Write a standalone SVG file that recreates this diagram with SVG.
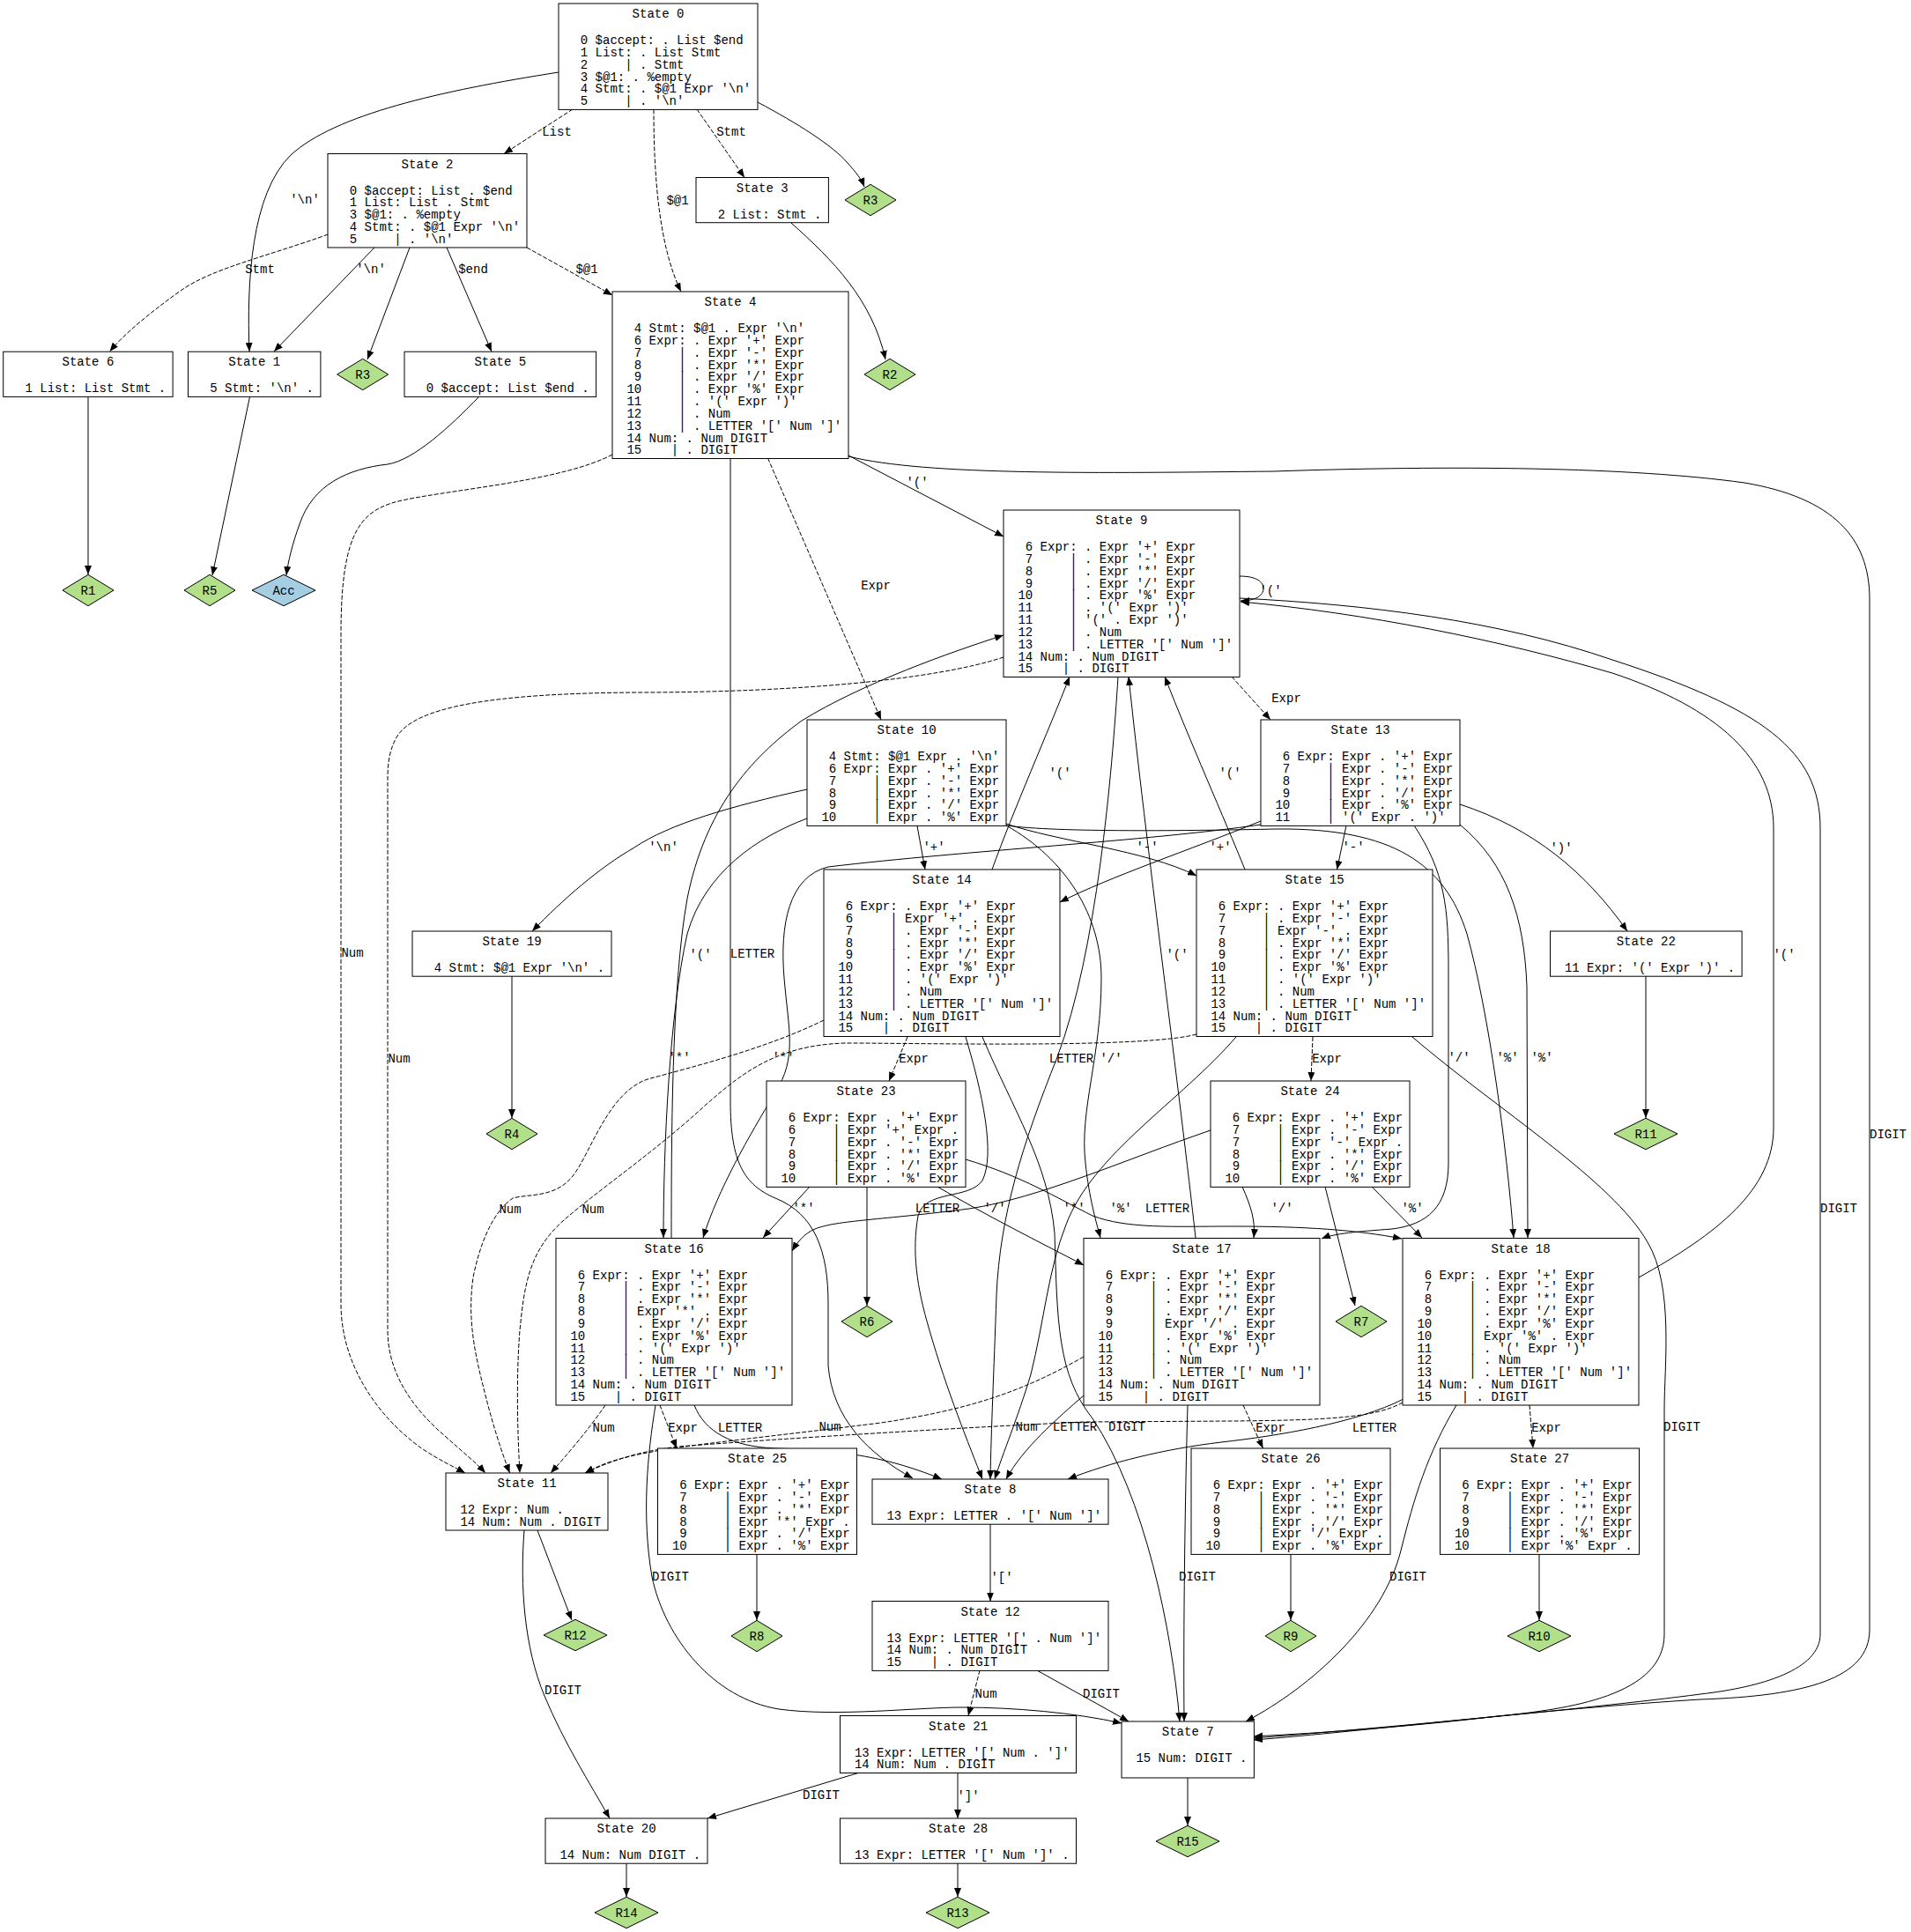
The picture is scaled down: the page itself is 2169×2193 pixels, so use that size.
<svg xmlns="http://www.w3.org/2000/svg" width="2169" height="2193" viewBox="0 0 2169 2193" xml:space="preserve">
<style>
  text { font-family: "Liberation Mono", "DejaVu Sans Mono", monospace; font-size: 14px; fill: #000; white-space: pre; }
  .ti { text-anchor: middle; }
  .lb { text-anchor: middle; }
  .box { fill: #fff; stroke: #000; stroke-width: 1; }
  .red { fill: #b2df8a; stroke: #000; stroke-width: 1; }
  .acc { fill: #a6cee3; stroke: #000; stroke-width: 1; }
  .e { fill: none; stroke: #000; stroke-width: 1; marker-end: url(#ah); }
  .d { stroke-dasharray: 5,2; }
</style>
<defs>
  <marker id="ah" viewBox="0 0 10 8" refX="10" refY="4" markerWidth="10" markerHeight="8" markerUnits="userSpaceOnUse" orient="auto">
    <path d="M0,0 L10,4 L0,8 z" fill="#000" stroke="none"/>
  </marker>
</defs>
<rect x="0" y="0" width="2169" height="2193" fill="#fff"/>

<!-- connectors -->
<g id="edges">
  <path class="e d" d="M650,124 L572,174.5"/>
  <text class="lb" x="632" y="154">List</text>
  <path class="e d" d="M791,124 L845,201.5"/>
  <text class="lb" x="830" y="154">Stmt</text>
  <path class="e" d="M860,116 C905,140 945,165 962,185 C972,196 978,204 981,212"/>
  <path class="e d" d="M742,124.4 C742,200 748,280 773,331"/>
  <text class="lb" x="769" y="232">$@1</text>
  <path class="e" d="M634,82 C500,103 380,130 330,176 C285,220 280,320 283,399"/>
  <text class="lb" x="346" y="231">'\n'</text>
  <path class="e d" d="M372.5,266 C300,292 240,305 205,330 C170,355 140,380 124.5,399"/>
  <text class="lb" x="295" y="310">Stmt</text>
  <path class="e" d="M425,281 L311,399"/>
  <text class="lb" x="421" y="310">'\n'</text>
  <path class="e" d="M465,281 L417,408"/>
  <path class="e" d="M507,281 L558,399"/>
  <text class="lb" x="537" y="310">$end</text>
  <path class="e d" d="M598,281 L695,335"/>
  <text class="lb" x="666" y="310">$@1</text>
  <path class="e" d="M898,253 C945,295 990,340 1005,408"/>
  <path class="e" d="M963,517 L1139,609"/>
  <text class="lb" x="1041" y="552">'('</text>
  <path class="e" d="M963,518 C1050,540 1250,537 1446,535 C1650,528 1850,530 1980,548 C2080,565 2122,610 2122,680 L2122,1850 C2122,1905 2050,1925 1930,1929 C1750,1940 1550,1965 1423,1975"/>
  <text class="lb" x="2143" y="1292">DIGIT</text>
  <path class="e d" d="M871.5,520 L1000,817"/>
  <text class="lb" x="994" y="669">Expr</text>
  <path class="e" d="M829,520 L829,1250 C829,1320 845,1345 880,1360 C925,1378 940,1420 940,1480 L940,1550 C945,1610 985,1650 1036,1678"/>
  <text class="lb" x="854" y="1087">LETTER</text>
  <path class="e d" d="M695,516 C640,545 520,555 461,567 C410,577 387,600 387,720 L387,1480 C387,1550 430,1610 480,1645 C500,1658 515,1665 528,1672"/>
  <text class="lb" x="400" y="1086">Num</text>
  <path class="e" d="M544,450 C510,485 470,522 440,527 C395,532 355,550 340,595 C332,617 327,637 325,653"/>
  <path class="e" d="M100,450.4 L100,652"/>
  <path class="e" d="M283.5,450.4 L241,653"/>
  <path class="e" d="M1407,654 C1427,654 1434,661 1434,668 C1434,676 1425,682 1408,682"/>
  <text class="lb" x="1442" y="675">'('</text>
  <path class="e" d="M1269,768 C1262,880 1245,1080 1200,1200 C1160,1300 1135,1380 1131,1470 C1128,1560 1125,1620 1124,1679"/>
  <text class="lb" x="1216" y="1206">LETTER</text>
  <path class="e" d="M1407,679 C1550,686 1700,704 1830,749 C2000,804 2066,852 2066,940 L2066,1855 C2066,1895 2000,1915 1930,1923 C1800,1940 1550,1963 1423,1973"/>
  <text class="lb" x="2087" y="1376">DIGIT</text>
  <path class="e d" d="M1398,768 L1442,817"/>
  <text class="lb" x="1460" y="797">Expr</text>
  <path class="e d" d="M1139,746 C1060,772 900,786 723,786 C560,787 470,802 450,837 C441,853 440,870 440,885 L440,1510 C440,1560 470,1600 505,1630 C525,1648 540,1660 551,1672"/>
  <text class="lb" x="453" y="1206">Num</text>
  <path class="e" d="M916,896 C830,915 760,935 720,962 C680,985 640,1020 604,1057"/>
  <text class="lb" x="753" y="966">'\n'</text>
  <path class="e" d="M1041,937.5 L1050,987"/>
  <text class="lb" x="1060" y="966">'+'</text>
  <path class="e" d="M1142,935 C1200,955 1300,965 1358,994"/>
  <text class="lb" x="1302" y="966">'-'</text>
  <path class="e" d="M916,929 C860,950 800,990 780,1060 C760,1150 753,1300 753,1405"/>
  <text class="lb" x="771" y="1205">'*'</text>
  <path class="e" d="M1142,937 C1210,975 1250,1040 1250,1110 C1250,1200 1225,1260 1232,1320 C1236,1360 1245,1390 1249,1405"/>
  <text class="lb" x="1261" y="1206">'/'</text>
  <path class="e" d="M1142,937 C1200,945 1350,943 1450,941 C1580,940 1640,980 1665,1060 C1690,1150 1710,1300 1718,1405"/>
  <text class="lb" x="1711" y="1205">'%'</text>
  <path class="e" d="M610,1737 L649,1839"/>
  <path class="e" d="M595,1737 C590,1800 595,1870 618,1925 C640,1978 670,2025 692,2064"/>
  <text class="lb" x="639" y="1923">DIGIT</text>
  <path class="e" d="M1124,1730 L1124,1817.5"/>
  <text class="lb" x="1137" y="1795">'['</text>
  <path class="e d" d="M1112,1896 L1099,1947.5"/>
  <text class="lb" x="1119" y="1927">Num</text>
  <path class="e" d="M1177,1896 L1281,1954"/>
  <text class="lb" x="1250" y="1927">DIGIT</text>
  <path class="e" d="M1431,932 C1350,965 1260,995 1203,1024"/>
  <text class="lb" x="1385" y="966">'+'</text>
  <path class="e" d="M1528,937 L1517.5,987"/>
  <text class="lb" x="1536" y="966">'-'</text>
  <path class="e" d="M1431,936 C1300,955 1100,965 940,984 C895,995 885,1050 890,1110 C895,1170 905,1200 880,1240 C850,1290 815,1350 798,1405"/>
  <text class="lb" x="889" y="1205">'*'</text>
  <path class="e" d="M1605,937 C1640,990 1644,1030 1644,1100 L1644,1320 C1644,1370 1620,1390 1580,1395 C1540,1398 1515,1400 1500,1406"/>
  <text class="lb" x="1656" y="1205">'/'</text>
  <path class="e" d="M1657,936 C1710,980 1730,1040 1733,1120 L1734,1405"/>
  <text class="lb" x="1750" y="1205">'%'</text>
  <path class="e" d="M1657,913 C1740,940 1800,990 1847,1057"/>
  <text class="lb" x="1772" y="967">')'</text>
  <path class="e" d="M1126,987 C1150,920 1190,830 1214,768"/>
  <text class="lb" x="1203" y="882">'('</text>
  <path class="e d" d="M1030,1177 L1009,1227"/>
  <text class="lb" x="1037" y="1206">Expr</text>
  <path class="e" d="M1096,1177 C1115,1240 1130,1310 1115,1340 C1100,1362 1050,1350 1042,1380 C1035,1420 1040,1460 1055,1510 C1075,1580 1100,1640 1115,1679"/>
  <text class="lb" x="1064" y="1376">LETTER</text>
  <path class="e" d="M1115,1177 C1150,1260 1190,1320 1197,1400 C1200,1500 1200,1560 1240,1610 C1300,1700 1330,1850 1339,1954"/>
  <text class="lb" x="1279" y="1624">DIGIT</text>
  <path class="e d" d="M935,1158 C870,1190 790,1210 735,1225 C690,1240 670,1310 650,1335 C630,1360 600,1355 582,1360 C560,1375 545,1410 537,1450 C530,1500 540,1540 550,1580 C560,1620 570,1650 578.6,1672"/>
  <text class="lb" x="579" y="1377">Num</text>
  <path class="e" d="M1413,987 C1390,930 1350,840 1322,768"/>
  <text class="lb" x="1396" y="882">'('</text>
  <path class="e d" d="M1490,1177 L1488,1227"/>
  <text class="lb" x="1506" y="1206">Expr</text>
  <path class="e" d="M1403,1177 C1340,1250 1240,1310 1210,1390 C1190,1440 1185,1500 1170,1560 C1155,1610 1138,1650 1129,1679"/>
  <text class="lb" x="1325" y="1376">LETTER</text>
  <path class="e" d="M1603,1177 C1700,1260 1830,1340 1870,1410 C1900,1460 1889,1550 1889,1600 L1889,1855 C1889,1925 1780,1940 1700,1948 C1600,1960 1500,1967 1423,1971"/>
  <text class="lb" x="1909" y="1624">DIGIT</text>
  <path class="e d" d="M1358,1174 C1300,1190 1050,1184 960,1184 C880,1186 840,1220 800,1255 C740,1310 680,1350 640,1385 C600,1420 595,1460 590,1510 C586,1560 587,1620 590,1672"/>
  <text class="lb" x="673" y="1377">Num</text>
  <path class="e" d="M762,1405 C762,1300 762,1120 780,1020 C800,920 850,862 910,818 C980,775 1080,740 1139,721"/>
  <text class="lb" x="795" y="1088">'('</text>
  <path class="e d" d="M749,1595 L768,1644"/>
  <text class="lb" x="775" y="1625">Expr</text>
  <path class="e" d="M788,1595 C800,1625 830,1642 880,1644 C960,1646 1010,1655 1069,1679"/>
  <text class="lb" x="840" y="1625">LETTER</text>
  <path class="e d" d="M687,1595 C670,1620 645,1650 625,1672"/>
  <text class="lb" x="685" y="1625">Num</text>
  <path class="e" d="M744,1595 C735,1650 728,1720 740,1790 C755,1860 810,1928 884,1940 C950,1949 1040,1938 1092,1938 C1150,1938 1220,1944 1273,1956"/>
  <text class="lb" x="761" y="1794">DIGIT</text>
  <path class="e" d="M1357,1405 C1340,1250 1300,950 1281,768"/>
  <text class="lb" x="1336" y="1088">'('</text>
  <path class="e d" d="M1411,1595 L1433.5,1644"/>
  <text class="lb" x="1442" y="1625">Expr</text>
  <path class="e" d="M1230,1584 C1200,1610 1160,1645 1142,1679"/>
  <text class="lb" x="1220" y="1624">LETTER</text>
  <path class="e" d="M1348,1595 C1345,1700 1343,1850 1344,1954"/>
  <text class="lb" x="1359" y="1794">DIGIT</text>
  <path class="e d" d="M1230,1540 C1160,1580 1100,1600 1000,1615 C880,1630 780,1640 740,1648 C700,1655 680,1663 664,1672"/>
  <text class="lb" x="942" y="1624">Num</text>
  <path class="e" d="M1860,1450 C1950,1400 2013,1350 2013,1280 L2013,940 C2013,862 1950,804 1830,764 C1700,726 1550,696 1408,683"/>
  <text class="lb" x="2025" y="1088">'('</text>
  <path class="e d" d="M1736,1595 L1740,1644"/>
  <text class="lb" x="1755" y="1625">Expr</text>
  <path class="e" d="M1593,1588 C1540,1615 1450,1630 1386,1637 C1320,1645 1260,1660 1212,1679"/>
  <text class="lb" x="1560" y="1625">LETTER</text>
  <path class="e" d="M1653,1595 C1620,1650 1605,1700 1590,1760 C1570,1840 1490,1914 1414,1954"/>
  <text class="lb" x="1598" y="1794">DIGIT</text>
  <path class="e d" d="M1592,1592 C1560,1610 1500,1612 1400,1613 L1230,1614 C1100,1620 900,1632 770,1642 C720,1648 690,1660 664,1672"/>
  <text class="lb" x="1165" y="1624">Num</text>
  <path class="e" d="M581,1108 L581,1269"/>
  <path class="e" d="M711,2115 L711,2153"/>
  <path class="e" d="M974,2012.5 L803,2064"/>
  <text class="lb" x="932" y="2042">DIGIT</text>
  <path class="e" d="M1087,2012.5 L1087,2064"/>
  <text class="lb" x="1099" y="2043">']'</text>
  <path class="e" d="M1868,1108 L1868,1269"/>
  <path class="e" d="M919,1347 L866,1405"/>
  <text class="lb" x="912" y="1376">'*'</text>
  <path class="e" d="M1064,1347 C1120,1380 1180,1410 1230,1436"/>
  <text class="lb" x="1129" y="1376">'/'</text>
  <path class="e" d="M1096,1316 C1160,1335 1200,1360 1240,1380 C1280,1395 1330,1392 1400,1392 C1480,1392 1540,1396 1591,1406"/>
  <text class="lb" x="1272" y="1376">'%'</text>
  <path class="e" d="M984,1347 L984,1482"/>
  <path class="e" d="M1374,1283 C1280,1315 1180,1360 1100,1372 C1000,1385 950,1385 925,1395 C913,1400 905,1410 899,1420"/>
  <text class="lb" x="1219" y="1376">'*'</text>
  <path class="e" d="M1410,1347 C1420,1370 1425,1385 1423,1405"/>
  <text class="lb" x="1455" y="1376">'/'</text>
  <path class="e" d="M1557,1347 L1614,1405"/>
  <text class="lb" x="1603" y="1376">'%'</text>
  <path class="e" d="M1504,1347 L1538,1482"/>
  <path class="e" d="M859,1764.4 L859,1839"/>
  <path class="e" d="M1465,1764.4 L1465,1839"/>
  <path class="e" d="M1747,1764.4 L1747,1839"/>
  <path class="e" d="M1087,2115 L1087,2153"/>
  <path class="e" d="M1348,2018 L1348,2072"/>
</g>

<!-- parser states -->
<g id="state0">
  <rect class="box" x="634" y="4" width="226" height="120.4"/>
  <text class="ti" x="747" y="20">State 0</text>
  <text x="642" y="50">  0 $accept: . List $end</text>
  <text x="642" y="63.8">  1 List: . List Stmt</text>
  <text x="642" y="77.7">  2     | . Stmt</text>
  <text x="642" y="91.5">  3 $@1: . %empty</text>
  <text x="642" y="105.3">  4 Stmt: . $@1 Expr '\n'</text>
  <text x="642" y="119.2">  5     | . '\n'</text>
</g>
<g id="state1">
  <rect class="box" x="213.5" y="399.2" width="150.4" height="51.2"/>
  <text class="ti" x="288.7" y="415.2">State 1</text>
  <text x="221.5" y="445.2">  5 Stmt: '\n' .</text>
</g>
<g id="state2">
  <rect class="box" x="372" y="174.5" width="226" height="106.5"/>
  <text class="ti" x="485" y="190.5">State 2</text>
  <text x="380" y="220.5">  0 $accept: List . $end</text>
  <text x="380" y="234.3">  1 List: List . Stmt</text>
  <text x="380" y="248.2">  3 $@1: . %empty</text>
  <text x="380" y="262">  4 Stmt: . $@1 Expr '\n'</text>
  <text x="380" y="275.8">  5     | . '\n'</text>
</g>
<g id="state3">
  <rect class="box" x="790" y="201.5" width="150.4" height="51.2"/>
  <text class="ti" x="865.2" y="217.5">State 3</text>
  <text x="798" y="247.5">  2 List: Stmt .</text>
</g>
<g id="state4">
  <rect class="box" x="695" y="331" width="268" height="189.5"/>
  <text class="ti" x="829" y="347">State 4</text>
  <text x="703" y="377">  4 Stmt: $@1 . Expr '\n'</text>
  <text x="703" y="390.8">  6 Expr: . Expr '+' Expr</text>
  <text x="703" y="404.7">  7     | . Expr '-' Expr</text>
  <text x="703" y="418.5">  8     | . Expr '*' Expr</text>
  <text x="703" y="432.3">  9     | . Expr '/' Expr</text>
  <text x="703" y="446.2"> 10     | . Expr '%' Expr</text>
  <text x="703" y="460"> 11     | . '(' Expr ')'</text>
  <text x="703" y="473.8"> 12     | . Num</text>
  <text x="703" y="487.6"> 13     | . LETTER '[' Num ']'</text>
  <text x="703" y="501.5"> 14 Num: . Num DIGIT</text>
  <text x="703" y="515.3"> 15    | . DIGIT</text>
</g>
<g id="state5">
  <rect class="box" x="459" y="399.2" width="217.6" height="51.2"/>
  <text class="ti" x="567.8" y="415.2">State 5</text>
  <text x="467" y="445.2">  0 $accept: List $end .</text>
</g>
<g id="state6">
  <rect class="box" x="3.7" y="399.2" width="192.4" height="51.2"/>
  <text class="ti" x="99.9" y="415.2">State 6</text>
  <text x="11.7" y="445.2">  1 List: List Stmt .</text>
</g>
<g id="state7">
  <rect class="box" x="1273" y="1954" width="150.4" height="64"/>
  <text class="ti" x="1348.2" y="1970">State 7</text>
  <text x="1281" y="2000"> 15 Num: DIGIT .</text>
</g>
<g id="state8">
  <rect class="box" x="990" y="1679" width="268" height="51.2"/>
  <text class="ti" x="1124" y="1695">State 8</text>
  <text x="998" y="1725"> 13 Expr: LETTER . '[' Num ']'</text>
</g>
<g id="state9">
  <rect class="box" x="1139" y="579" width="268" height="189.5"/>
  <text class="ti" x="1273" y="595">State 9</text>
  <text x="1147" y="625">  6 Expr: . Expr '+' Expr</text>
  <text x="1147" y="638.8">  7     | . Expr '-' Expr</text>
  <text x="1147" y="652.7">  8     | . Expr '*' Expr</text>
  <text x="1147" y="666.5">  9     | . Expr '/' Expr</text>
  <text x="1147" y="680.3"> 10     | . Expr '%' Expr</text>
  <text x="1147" y="694.2"> 11     | . '(' Expr ')'</text>
  <text x="1147" y="708"> 11     | '(' . Expr ')'</text>
  <text x="1147" y="721.8"> 12     | . Num</text>
  <text x="1147" y="735.6"> 13     | . LETTER '[' Num ']'</text>
  <text x="1147" y="749.5"> 14 Num: . Num DIGIT</text>
  <text x="1147" y="763.3"> 15    | . DIGIT</text>
</g>
<g id="state10">
  <rect class="box" x="916" y="817" width="226" height="120.4"/>
  <text class="ti" x="1029" y="833">State 10</text>
  <text x="924" y="863">  4 Stmt: $@1 Expr . '\n'</text>
  <text x="924" y="876.8">  6 Expr: Expr . '+' Expr</text>
  <text x="924" y="890.7">  7     | Expr . '-' Expr</text>
  <text x="924" y="904.5">  8     | Expr . '*' Expr</text>
  <text x="924" y="918.3">  9     | Expr . '/' Expr</text>
  <text x="924" y="932.2"> 10     | Expr . '%' Expr</text>
</g>
<g id="state11">
  <rect class="box" x="506" y="1672" width="184" height="65"/>
  <text class="ti" x="598" y="1688">State 11</text>
  <text x="514" y="1718"> 12 Expr: Num .</text>
  <text x="514" y="1731.8"> 14 Num: Num . DIGIT</text>
</g>
<g id="state12">
  <rect class="box" x="990" y="1817.5" width="268" height="78.9"/>
  <text class="ti" x="1124" y="1833.5">State 12</text>
  <text x="998" y="1863.5"> 13 Expr: LETTER '[' . Num ']'</text>
  <text x="998" y="1877.3"> 14 Num: . Num DIGIT</text>
  <text x="998" y="1891.2"> 15    | . DIGIT</text>
</g>
<g id="state13">
  <rect class="box" x="1431" y="817" width="226" height="120.4"/>
  <text class="ti" x="1544" y="833">State 13</text>
  <text x="1439" y="863">  6 Expr: Expr . '+' Expr</text>
  <text x="1439" y="876.8">  7     | Expr . '-' Expr</text>
  <text x="1439" y="890.7">  8     | Expr . '*' Expr</text>
  <text x="1439" y="904.5">  9     | Expr . '/' Expr</text>
  <text x="1439" y="918.3"> 10     | Expr . '%' Expr</text>
  <text x="1439" y="932.2"> 11     | '(' Expr . ')'</text>
</g>
<g id="state14">
  <rect class="box" x="935" y="987" width="268" height="189.5"/>
  <text class="ti" x="1069" y="1003">State 14</text>
  <text x="943" y="1033">  6 Expr: . Expr '+' Expr</text>
  <text x="943" y="1046.8">  6     | Expr '+' . Expr</text>
  <text x="943" y="1060.7">  7     | . Expr '-' Expr</text>
  <text x="943" y="1074.5">  8     | . Expr '*' Expr</text>
  <text x="943" y="1088.3">  9     | . Expr '/' Expr</text>
  <text x="943" y="1102.2"> 10     | . Expr '%' Expr</text>
  <text x="943" y="1116"> 11     | . '(' Expr ')'</text>
  <text x="943" y="1129.8"> 12     | . Num</text>
  <text x="943" y="1143.6"> 13     | . LETTER '[' Num ']'</text>
  <text x="943" y="1157.5"> 14 Num: . Num DIGIT</text>
  <text x="943" y="1171.3"> 15    | . DIGIT</text>
</g>
<g id="state15">
  <rect class="box" x="1358" y="987" width="268" height="189.5"/>
  <text class="ti" x="1492" y="1003">State 15</text>
  <text x="1366" y="1033">  6 Expr: . Expr '+' Expr</text>
  <text x="1366" y="1046.8">  7     | . Expr '-' Expr</text>
  <text x="1366" y="1060.7">  7     | Expr '-' . Expr</text>
  <text x="1366" y="1074.5">  8     | . Expr '*' Expr</text>
  <text x="1366" y="1088.3">  9     | . Expr '/' Expr</text>
  <text x="1366" y="1102.2"> 10     | . Expr '%' Expr</text>
  <text x="1366" y="1116"> 11     | . '(' Expr ')'</text>
  <text x="1366" y="1129.8"> 12     | . Num</text>
  <text x="1366" y="1143.6"> 13     | . LETTER '[' Num ']'</text>
  <text x="1366" y="1157.5"> 14 Num: . Num DIGIT</text>
  <text x="1366" y="1171.3"> 15    | . DIGIT</text>
</g>
<g id="state16">
  <rect class="box" x="631" y="1405.5" width="268" height="189.5"/>
  <text class="ti" x="765" y="1421.5">State 16</text>
  <text x="639" y="1451.5">  6 Expr: . Expr '+' Expr</text>
  <text x="639" y="1465.3">  7     | . Expr '-' Expr</text>
  <text x="639" y="1479.2">  8     | . Expr '*' Expr</text>
  <text x="639" y="1493">  8     | Expr '*' . Expr</text>
  <text x="639" y="1506.8">  9     | . Expr '/' Expr</text>
  <text x="639" y="1520.7"> 10     | . Expr '%' Expr</text>
  <text x="639" y="1534.5"> 11     | . '(' Expr ')'</text>
  <text x="639" y="1548.3"> 12     | . Num</text>
  <text x="639" y="1562.1"> 13     | . LETTER '[' Num ']'</text>
  <text x="639" y="1576"> 14 Num: . Num DIGIT</text>
  <text x="639" y="1589.8"> 15    | . DIGIT</text>
</g>
<g id="state17">
  <rect class="box" x="1230" y="1405.5" width="268" height="189.5"/>
  <text class="ti" x="1364" y="1421.5">State 17</text>
  <text x="1238" y="1451.5">  6 Expr: . Expr '+' Expr</text>
  <text x="1238" y="1465.3">  7     | . Expr '-' Expr</text>
  <text x="1238" y="1479.2">  8     | . Expr '*' Expr</text>
  <text x="1238" y="1493">  9     | . Expr '/' Expr</text>
  <text x="1238" y="1506.8">  9     | Expr '/' . Expr</text>
  <text x="1238" y="1520.7"> 10     | . Expr '%' Expr</text>
  <text x="1238" y="1534.5"> 11     | . '(' Expr ')'</text>
  <text x="1238" y="1548.3"> 12     | . Num</text>
  <text x="1238" y="1562.1"> 13     | . LETTER '[' Num ']'</text>
  <text x="1238" y="1576"> 14 Num: . Num DIGIT</text>
  <text x="1238" y="1589.8"> 15    | . DIGIT</text>
</g>
<g id="state18">
  <rect class="box" x="1592" y="1405.5" width="268" height="189.5"/>
  <text class="ti" x="1726" y="1421.5">State 18</text>
  <text x="1600" y="1451.5">  6 Expr: . Expr '+' Expr</text>
  <text x="1600" y="1465.3">  7     | . Expr '-' Expr</text>
  <text x="1600" y="1479.2">  8     | . Expr '*' Expr</text>
  <text x="1600" y="1493">  9     | . Expr '/' Expr</text>
  <text x="1600" y="1506.8"> 10     | . Expr '%' Expr</text>
  <text x="1600" y="1520.7"> 10     | Expr '%' . Expr</text>
  <text x="1600" y="1534.5"> 11     | . '(' Expr ')'</text>
  <text x="1600" y="1548.3"> 12     | . Num</text>
  <text x="1600" y="1562.1"> 13     | . LETTER '[' Num ']'</text>
  <text x="1600" y="1576"> 14 Num: . Num DIGIT</text>
  <text x="1600" y="1589.8"> 15    | . DIGIT</text>
</g>
<g id="state19">
  <rect class="box" x="468" y="1057" width="226" height="51.2"/>
  <text class="ti" x="581" y="1073">State 19</text>
  <text x="476" y="1103">  4 Stmt: $@1 Expr '\n' .</text>
</g>
<g id="state20">
  <rect class="box" x="619" y="2064" width="184" height="51.2"/>
  <text class="ti" x="711" y="2080">State 20</text>
  <text x="627" y="2110"> 14 Num: Num DIGIT .</text>
</g>
<g id="state21">
  <rect class="box" x="953.5" y="1947.5" width="268" height="65"/>
  <text class="ti" x="1087.5" y="1963.5">State 21</text>
  <text x="961.5" y="1993.5"> 13 Expr: LETTER '[' Num . ']'</text>
  <text x="961.5" y="2007.3"> 14 Num: Num . DIGIT</text>
</g>
<g id="state22">
  <rect class="box" x="1759.5" y="1057" width="217.6" height="51.2"/>
  <text class="ti" x="1868.3" y="1073">State 22</text>
  <text x="1767.5" y="1103"> 11 Expr: '(' Expr ')' .</text>
</g>
<g id="state23">
  <rect class="box" x="870" y="1227" width="226" height="120.4"/>
  <text class="ti" x="983" y="1243">State 23</text>
  <text x="878" y="1273">  6 Expr: Expr . '+' Expr</text>
  <text x="878" y="1286.8">  6     | Expr '+' Expr .</text>
  <text x="878" y="1300.7">  7     | Expr . '-' Expr</text>
  <text x="878" y="1314.5">  8     | Expr . '*' Expr</text>
  <text x="878" y="1328.3">  9     | Expr . '/' Expr</text>
  <text x="878" y="1342.2"> 10     | Expr . '%' Expr</text>
</g>
<g id="state24">
  <rect class="box" x="1374" y="1227" width="226" height="120.4"/>
  <text class="ti" x="1487" y="1243">State 24</text>
  <text x="1382" y="1273">  6 Expr: Expr . '+' Expr</text>
  <text x="1382" y="1286.8">  7     | Expr . '-' Expr</text>
  <text x="1382" y="1300.7">  7     | Expr '-' Expr .</text>
  <text x="1382" y="1314.5">  8     | Expr . '*' Expr</text>
  <text x="1382" y="1328.3">  9     | Expr . '/' Expr</text>
  <text x="1382" y="1342.2"> 10     | Expr . '%' Expr</text>
</g>
<g id="state25">
  <rect class="box" x="746.5" y="1644" width="226" height="120.4"/>
  <text class="ti" x="859.5" y="1660">State 25</text>
  <text x="754.5" y="1690">  6 Expr: Expr . '+' Expr</text>
  <text x="754.5" y="1703.8">  7     | Expr . '-' Expr</text>
  <text x="754.5" y="1717.7">  8     | Expr . '*' Expr</text>
  <text x="754.5" y="1731.5">  8     | Expr '*' Expr .</text>
  <text x="754.5" y="1745.3">  9     | Expr . '/' Expr</text>
  <text x="754.5" y="1759.2"> 10     | Expr . '%' Expr</text>
</g>
<g id="state26">
  <rect class="box" x="1352" y="1644" width="226" height="120.4"/>
  <text class="ti" x="1465" y="1660">State 26</text>
  <text x="1360" y="1690">  6 Expr: Expr . '+' Expr</text>
  <text x="1360" y="1703.8">  7     | Expr . '-' Expr</text>
  <text x="1360" y="1717.7">  8     | Expr . '*' Expr</text>
  <text x="1360" y="1731.5">  9     | Expr . '/' Expr</text>
  <text x="1360" y="1745.3">  9     | Expr '/' Expr .</text>
  <text x="1360" y="1759.2"> 10     | Expr . '%' Expr</text>
</g>
<g id="state27">
  <rect class="box" x="1634.5" y="1644" width="226" height="120.4"/>
  <text class="ti" x="1747.5" y="1660">State 27</text>
  <text x="1642.5" y="1690">  6 Expr: Expr . '+' Expr</text>
  <text x="1642.5" y="1703.8">  7     | Expr . '-' Expr</text>
  <text x="1642.5" y="1717.7">  8     | Expr . '*' Expr</text>
  <text x="1642.5" y="1731.5">  9     | Expr . '/' Expr</text>
  <text x="1642.5" y="1745.3"> 10     | Expr . '%' Expr</text>
  <text x="1642.5" y="1759.2"> 10     | Expr '%' Expr .</text>
</g>
<g id="state28">
  <rect class="box" x="953.5" y="2064" width="268" height="51.2"/>
  <text class="ti" x="1087.5" y="2080">State 28</text>
  <text x="961.5" y="2110"> 13 Expr: LETTER '[' Num ']' .</text>
</g>

<!-- reductions and accept -->
<g id="r3a"><polygon class="red" points="411.7,407.3 440.7,425 411.7,442.7 382.7,425"/><text class="ti" x="411.7" y="429.5">R3</text></g>
<g id="r3b"><polygon class="red" points="988,209.3 1017,227 988,244.7 959,227"/><text class="ti" x="988" y="231.5">R3</text></g>
<g id="r2"><polygon class="red" points="1010,407.3 1039,425 1010,442.7 981,425"/><text class="ti" x="1010" y="429.5">R2</text></g>
<g id="r1"><polygon class="red" points="100,652.3 129,670 100,687.7 71,670"/><text class="ti" x="100" y="674.5">R1</text></g>
<g id="r5"><polygon class="red" points="238,652.3 267,670 238,687.7 209,670"/><text class="ti" x="238" y="674.5">R5</text></g>
<g id="acc"><polygon class="acc" points="322,652.3 358,670 322,687.7 286,670"/><text class="ti" x="322" y="674.5">Acc</text></g>
<g id="r4"><polygon class="red" points="581,1269.3 610,1287 581,1304.7 552,1287"/><text class="ti" x="581" y="1291.5">R4</text></g>
<g id="r11"><polygon class="red" points="1868,1269.3 1904,1287 1868,1304.7 1832,1287"/><text class="ti" x="1868" y="1291.5">R11</text></g>
<g id="r6"><polygon class="red" points="984,1482.3 1013,1500 984,1517.7 955,1500"/><text class="ti" x="984" y="1504.5">R6</text></g>
<g id="r7"><polygon class="red" points="1545,1482.3 1574,1500 1545,1517.7 1516,1500"/><text class="ti" x="1545" y="1504.5">R7</text></g>
<g id="r12"><polygon class="red" points="653,1838.3 689,1856 653,1873.7 617,1856"/><text class="ti" x="653" y="1860.5">R12</text></g>
<g id="r8"><polygon class="red" points="859,1839.3 888,1857 859,1874.7 830,1857"/><text class="ti" x="859" y="1861.5">R8</text></g>
<g id="r9"><polygon class="red" points="1465,1839.3 1494,1857 1465,1874.7 1436,1857"/><text class="ti" x="1465" y="1861.5">R9</text></g>
<g id="r10"><polygon class="red" points="1747,1839.3 1783,1857 1747,1874.7 1711,1857"/><text class="ti" x="1747" y="1861.5">R10</text></g>
<g id="r15"><polygon class="red" points="1348,2072.3 1384,2090 1348,2107.7 1312,2090"/><text class="ti" x="1348" y="2094.5">R15</text></g>
<g id="r14"><polygon class="red" points="711,2153.3 747,2171 711,2188.7 675,2171"/><text class="ti" x="711" y="2175.5">R14</text></g>
<g id="r13"><polygon class="red" points="1087,2153.3 1123,2171 1087,2188.7 1051,2171"/><text class="ti" x="1087" y="2175.5">R13</text></g>
</svg>
